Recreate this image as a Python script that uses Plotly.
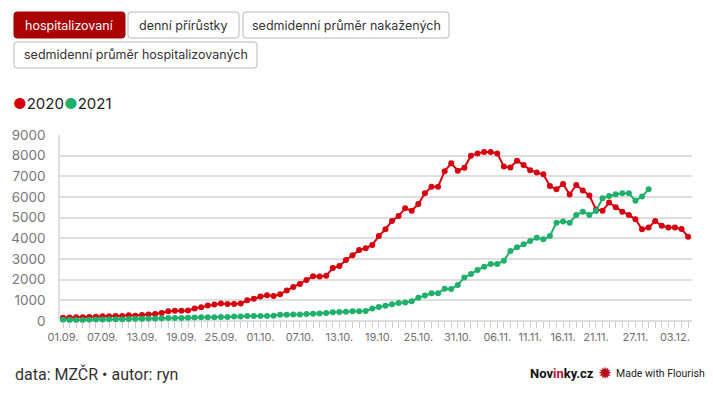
import plotly.graph_objects as go
import pandas as pd

# ---------------- data ----------------
start_date = "2020-09-01"
hosp_2020 = [160, 170, 180, 180, 195, 210, 225, 230, 240, 245,
             275, 260, 290, 320, 340, 390, 470, 490, 490, 505,
             610, 670, 750, 800, 850, 820, 820, 850, 1000, 1080,
             1180, 1240, 1210, 1290, 1480, 1640, 1790, 1980, 2170, 2150,
             2190, 2560, 2660, 2950, 3180, 3430, 3520, 3680, 4110, 4440,
             4840, 5080, 5450, 5340, 5660, 6180, 6500, 6500, 7250, 7630,
             7270, 7420, 8000, 8110, 8180, 8180, 8110, 7470, 7430, 7760,
             7550, 7300, 7180, 7100, 6530, 6370, 6630, 6120, 6580, 6310,
             6070, 5400, 5340, 5730, 5500, 5290, 5130, 4920, 4440, 4520,
             4840, 4610, 4530, 4520, 4450, 4080]
hosp_2021 = [60, 50, 45, 50, 60, 70, 75, 80, 90, 90,
             100, 105, 110, 120, 125, 135, 145, 140, 145, 160,
             170, 180, 180, 180, 190, 190, 220, 220, 240, 240,
             240, 240, 260, 300, 300, 310, 320, 340, 350, 360,
             390, 420, 435, 450, 470, 470, 485, 600, 680, 740,
             810, 870, 890, 950, 1130, 1230, 1340, 1340, 1560, 1550,
             1740, 2110, 2270, 2470, 2630, 2760, 2760, 2920, 3390, 3570,
             3710, 3870, 4030, 3950, 4110, 4760, 4810, 4760, 5130, 5290,
             5130, 5320, 5940, 6050, 6130, 6180, 6180, 5820, 6020, 6370]
tick_dates = ["2020-09-01", "2020-09-07", "2020-09-13", "2020-09-19", "2020-09-25",
              "2020-10-01", "2020-10-07", "2020-10-13", "2020-10-19", "2020-10-25",
              "2020-10-31", "2020-11-06", "2020-11-11", "2020-11-16", "2020-11-21",
              "2020-11-27", "2020-12-03"]
tick_labels = ["01.09.", "07.09.", "13.09.", "19.09.", "25.09.", "01.10.", "07.10.",
               "13.10.", "19.10.", "25.10.", "31.10.", "06.11.", "11.11.", "16.11.",
               "21.11.", "27.11.", "03.12."]
y_ticks = [0, 1000, 2000, 3000, 4000, 5000, 6000, 7000, 8000, 9000]
series_names = ["2020", "2021"]
buttons = ["hospitalizovaní", "denní přírůstky", "sedmidenní průměr nakažených",
           "sedmidenní průměr hospitalizovaných"]

dates_2020 = pd.date_range(start_date, periods=len(hosp_2020), freq="D")
dates_2021 = pd.date_range(start_date, periods=len(hosp_2021), freq="D")

RED = "#d6000f"
GREEN = "#1fb16b"
W, H = 713, 401
L, R, T, B = 60, 21, 135, 80
PW, PH = W - L - R, H - T - B


def X(px):
    return (px - L) / PW


def Y(py):
    return (H - B - py) / PH


def rrect(x0, y0, x1, y1, r=3):
    return (f"M {X(x0 + r)},{Y(y0)} L {X(x1 - r)},{Y(y0)} "
            f"Q {X(x1)},{Y(y0)} {X(x1)},{Y(y0 + r)} L {X(x1)},{Y(y1 - r)} "
            f"Q {X(x1)},{Y(y1)} {X(x1 - r)},{Y(y1)} L {X(x0 + r)},{Y(y1)} "
            f"Q {X(x0)},{Y(y1)} {X(x0)},{Y(y1 - r)} L {X(x0)},{Y(y0 + r)} "
            f"Q {X(x0)},{Y(y0)} {X(x0 + r)},{Y(y0)} Z")


fig = go.Figure()
fig.add_trace(go.Scatter(x=dates_2020, y=hosp_2020, name=series_names[0], mode="lines+markers",
                         line=dict(color=RED, width=2), marker=dict(color=RED, size=6),
                         cliponaxis=False))
fig.add_trace(go.Scatter(x=dates_2021, y=hosp_2021, name=series_names[1], mode="lines+markers",
                         line=dict(color=GREEN, width=2), marker=dict(color=GREEN, size=6),
                         cliponaxis=False))

FONT = "Inter, Lato, sans-serif"

fig.update_layout(
    width=W, height=H,
    margin=dict(l=L, r=R, t=T, b=B, pad=0),
    paper_bgcolor="white", plot_bgcolor="white",
    showlegend=False,
    font=dict(family=FONT, color="#333333"),
    xaxis=dict(
        type="date",
        range=["2020-08-31 13:00", "2020-12-05 14:15"],
        tickmode="array", tickvals=tick_dates, ticktext=tick_labels,
        ticks="outside", ticklen=6, tickcolor="#cccccc", tickwidth=1,
        tickfont=dict(size=11, color="#707070", family=FONT),
        showgrid=False, zeroline=False, showline=False,
        minor=dict(tickmode="array", tickvals=list(dates_2020), ticks="outside",
                   ticklen=6, tickcolor="#cccccc", tickwidth=1, showgrid=False),
    ),
    yaxis=dict(
        range=[0, 9000],
        tickmode="array", tickvals=y_ticks,
        ticks="", ticklabelstandoff=10,
        tickfont=dict(size=13.5, color="#777777", family=FONT),
        showgrid=True, gridcolor="#dedede", gridwidth=1.5,
        zeroline=True, zerolinecolor="#dedede", zerolinewidth=1.5,
        showline=True, linecolor="#dedede", linewidth=1.5,
    ),
)

shapes = []
annotations = []
btn_boxes = [(14, 12, 125, 38), (128, 12, 239, 38), (243, 12, 449, 38), (14, 42, 257, 68)]
for i, (label, (x0, y0, x1, y1)) in enumerate(zip(buttons, btn_boxes)):
    active = i == 0
    shapes.append(dict(type="path", xref="paper", yref="paper", path=rrect(x0, y0, x1, y1),
                       fillcolor="#aa0000" if active else "white",
                       line=dict(color="#aa0000" if active else "#b8b8b8", width=1)))
    annotations.append(dict(xref="paper", yref="paper", x=X((x0 + x1) / 2), y=Y((y0 + y1) / 2),
                            xanchor="center", yanchor="middle", showarrow=False, text=label,
                            font=dict(size=12.5, color="white" if active else "#333333", family=FONT)))

annotations.append(dict(
    xref="paper", yref="paper", x=X(11), y=Y(104), xanchor="left", yanchor="middle", showarrow=False,
    text=(f"<span style='color:{RED}'>●</span>{series_names[0]}"
          f"<span style='color:{GREEN}'>●</span>{series_names[1]}"),
    font=dict(size=15, color="#222222", family=FONT)))

annotations.append(dict(
    xref="paper", yref="paper", x=X(13), y=Y(374), xanchor="left", yanchor="middle", showarrow=False,
    text="data: MZČR • autor: ryn", font=dict(size=16, color="#333333", family="Roboto, sans-serif")))

annotations.append(dict(
    xref="paper", yref="paper", x=X(596), y=Y(373), xanchor="right", yanchor="middle", showarrow=False,
    text="<b>Nov<span style='color:#c8102e'>in</span>ky.cz</b>",
    font=dict(size=13, color="#111111", family="Roboto, sans-serif")))
annotations.append(dict(
    xref="paper", yref="paper", x=X(605), y=Y(373), xanchor="center", yanchor="middle", showarrow=False,
    text="✹", font=dict(size=17, color="#b5121b", family="DejaVu Sans")))
annotations.append(dict(
    xref="paper", yref="paper", x=X(707), y=Y(373), xanchor="right", yanchor="middle", showarrow=False,
    text="Made with Flourish", font=dict(size=10.5, color="#222222", family="Roboto, sans-serif")))

fig.update_layout(shapes=shapes, annotations=annotations)
fig.write_html("out.html", config={"displayModeBar": False},
               post_script="document.body.style.margin='0px';")
